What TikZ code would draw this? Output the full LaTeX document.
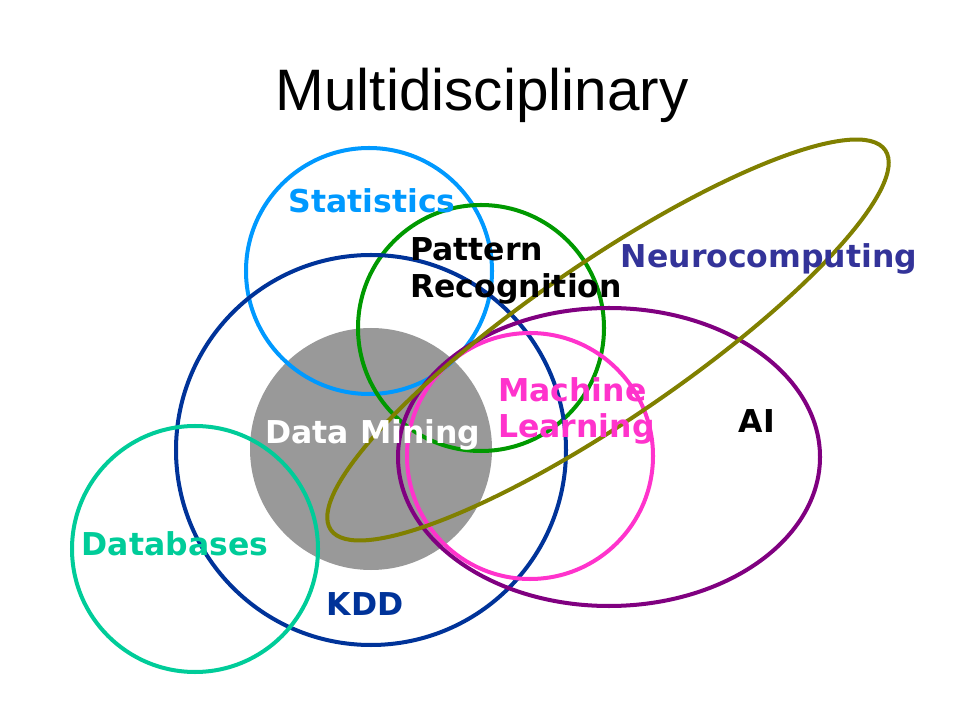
\documentclass[tikz,border=0pt]{standalone}
\usepackage{fontspec}
\setmainfont{Liberation Sans}
\newfontfamily\labelfont{DejaVu Sans}
\usetikzlibrary{positioning}

\definecolor{statblue}{HTML}{0099FF}
\definecolor{patgreen}{HTML}{009900}
\definecolor{kddblue}{HTML}{003399}
\definecolor{dbteal}{HTML}{00CC99}
\definecolor{mlpink}{HTML}{FF33CC}
\definecolor{aipurple}{HTML}{800080}
\definecolor{ncolive}{HTML}{808000}
\definecolor{ncviolet}{HTML}{333399}
\definecolor{dmgray}{HTML}{999999}

\tikzset{
  ring/.style={line width=2.85pt},
  lbl/.style={font=\labelfont\bfseries\fontsize{22.4}{26}\selectfont, inner sep=0pt}
}

\begin{document}
\begin{tikzpicture}[x=0.025cm, y=-0.025cm]
  \useasboundingbox (0,0) rectangle (960,720);

  % Areas
  \fill[dmgray] (371,449) circle (121);
  \foreach \c/\x/\y/\r in {statblue/369/271/123, patgreen/481/328/123,
                           kddblue/371/450/195, dbteal/195/549/123,
                           mlpink/530/456/123}
  \draw[ring, \c] (\x,\y) circle (\r);
  \draw[ring, aipurple] (609,457) ellipse [x radius=211, y radius=149];
  \draw[ring, ncolive, rotate around={34.4:(608,340)}] (608,340) ellipse [x radius=336, y radius=78];

  % Labels
  \node[font=\fontsize{41.6}{48}\selectfont, anchor=base, inner sep=0pt] (title) at (482,111) {Multidisciplinary};
  \node[lbl, statblue, anchor=base] (stat) at (372,213) {Statistics};
  \node[lbl, anchor=base west] (pat) at (410,261) {Pattern};
  \node[lbl, anchor=base west] (recog) at (410,298) {Recognition};
  \node[lbl, ncviolet, anchor=base] (neuro) at (769,268) {Neurocomputing};
  \node[lbl, mlpink, anchor=base west] (mach) at (498,402) {Machine};
  \node[lbl, mlpink, anchor=base west] (learn) at (498,438) {Learning};
  \node[lbl, anchor=base] (ai) at (757,433) {AI};
  \node[lbl, white, anchor=base] (dm) at (373,444) {Data Mining};
  \node[lbl, dbteal, anchor=base] (db) at (175,556) {Databases};
  \node[lbl, kddblue, anchor=base] (kdd) at (365,615) {KDD};
\end{tikzpicture}
\end{document}
